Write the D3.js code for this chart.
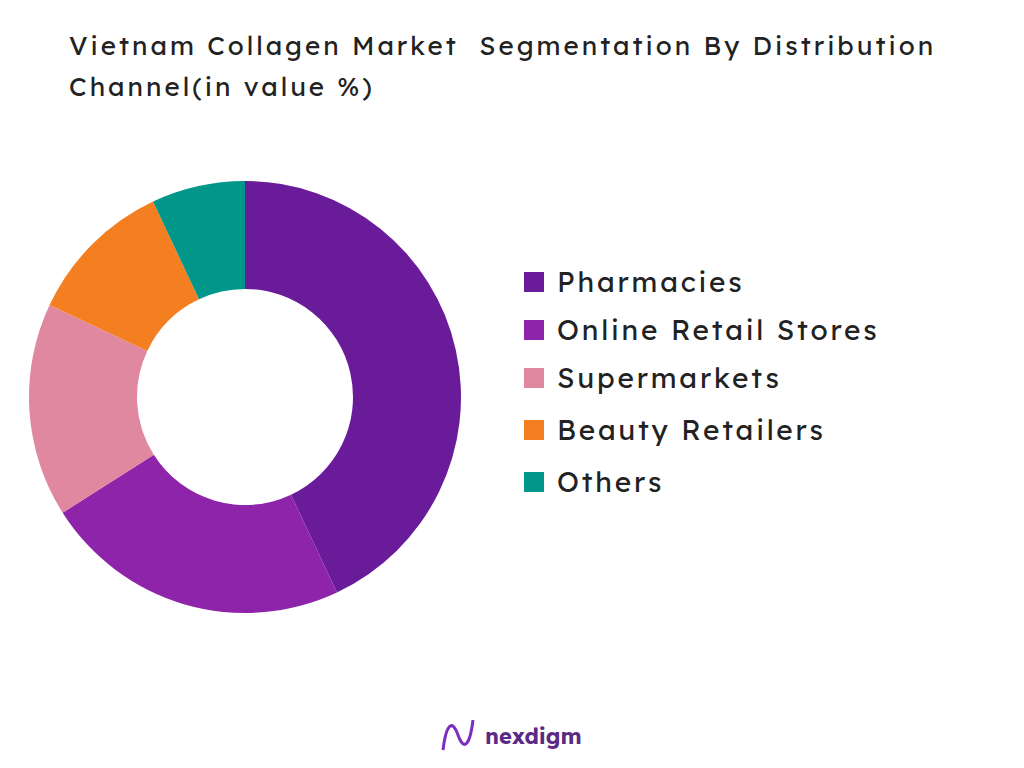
<!DOCTYPE html>
<html><head><meta charset="utf-8">
<script src="https://cdn.jsdelivr.net/npm/d3@7"></script>
<style>body{margin:0;background:#fff}</style>
</head><body>
<svg id="chart" width="1024" height="768"></svg>
<script>
"use strict";

var categories = ["Pharmacies", "Online Retail Stores", "Supermarkets", "Beauty Retailers", "Others"];
var values = [43, 23, 16, 11, 7];
var colours = ["#6A1B9A", "#8E24AA", "#E088A0", "#F47F20", "#00968A"];

var svg = d3.select("#chart");
var font = "Lexend, Inter, 'Noto Sans', sans-serif";

// title
svg.append("text").attr("x", 69).attr("y", 55)
    .attr("font-family", font).attr("font-size", 26).attr("fill", "#222")
    .attr("letter-spacing", 3).attr("xml:space", "preserve")
    .text("Vietnam Collagen Market  Segmentation By Distribution");
svg.append("text").attr("x", 69).attr("y", 96)
    .attr("font-family", font).attr("font-size", 26).attr("fill", "#222")
    .attr("letter-spacing", 3)
    .text("Channel(in value %)");

// donut
var pie = d3.pie().sort(null).value(function(d) { return d; });
var arc = d3.arc().innerRadius(108).outerRadius(216);
var g = svg.append("g").attr("transform", "translate(245,397)");
g.selectAll("path").data(pie(values)).enter().append("path")
    .attr("d", arc)
    .attr("fill", function(d, i) { return colours[i]; });

// legend
var rows = [282, 330, 378, 430, 482];
var legend = svg.append("g");
categories.forEach(function(c, i) {
    legend.append("rect").attr("x", 524).attr("y", rows[i] - 10)
        .attr("width", 20).attr("height", 20).attr("fill", colours[i]);
    legend.append("text").attr("x", 557).attr("y", rows[i] + 10)
        .attr("font-family", font).attr("font-size", 28).attr("fill", "#222")
        .attr("letter-spacing", 2.8)
        .text(c);
});

// logo
var logo = svg.append("g");
logo.append("path")
    .attr("d", "M443,750 C446,725 452,718 458,735 C464,752 470,745 473,720")
    .attr("fill", "none").attr("stroke", "#7B2FBE").attr("stroke-width", 3);
logo.append("text").attr("x", 485).attr("y", 744)
    .attr("font-family", font).attr("font-size", 22).attr("font-weight", "bold")
    .attr("fill", "#5B2A86").text("nexdigm");
</script>
</body></html>
